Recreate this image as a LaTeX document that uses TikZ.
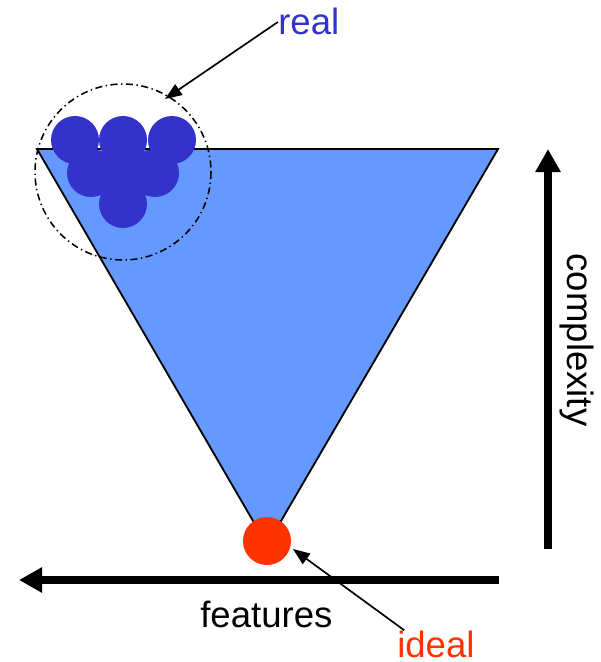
\documentclass[tikz,border=0pt]{standalone}
\usepackage{fontspec}
\setmainfont{Liberation Sans}
\usetikzlibrary{arrows.meta}
\definecolor{funnel}{HTML}{6699FF}
\definecolor{realblue}{HTML}{3333CC}
\definecolor{idealred}{HTML}{FF3300}

\begin{document}
\begin{tikzpicture}[x=0.025cm,y=-0.025cm,
  axis/.style={line width=5.7pt,-{Triangle[length=0.575cm,width=0.6cm]}},
  pointer/.style={line width=1.2pt,-{Triangle[length=0.42cm,width=0.32cm]}},
  lbl/.style={inner sep=0pt,font=\fontsize{26}{31}\selectfont}]
  \useasboundingbox (0,0) rectangle (600,662);
  \filldraw[fill=funnel,line width=1.3pt] (37,149) -- (498,149) -- (267,545) -- cycle;
  \foreach \x/\y in {75/140,123/140,172/140,91/173,123/173,155/173,123/204}
    \fill[realblue] (\x,\y) circle (24);
  \draw[line width=1.1pt,dash pattern=on 5pt off 2.5pt on 1pt off 2.5pt] (123,172) circle (88);
  \fill[idealred] (267,541) circle (24);
  % axes
  \coordinate (cbot) at (548,549);  \coordinate (ctop) at (548,149);
  \coordinate (fright) at (499,580); \coordinate (fleft) at (19,580);
  \draw[axis] (cbot) -- (ctop);
  \draw[axis] (fright) -- (fleft);
  \node[lbl,rotate=-90] (complexity) at (577,340) {complexity};
  \node[lbl,anchor=base west] (features) at (200,627) {features};
  % labels
  \node[lbl,anchor=base west,text=realblue] (real) at (278,35) {real};
  \node[lbl,anchor=base west,text=idealred] (ideal) at (397,657) {ideal};
  \coordinate (realtip) at (165,99);
  \coordinate (idealtip) at (293,549);
  \draw[pointer] (real.west) -- (realtip);
  \draw[pointer] ([xshift=0.18cm]ideal.north west) -- (idealtip);
\end{tikzpicture}
\end{document}
